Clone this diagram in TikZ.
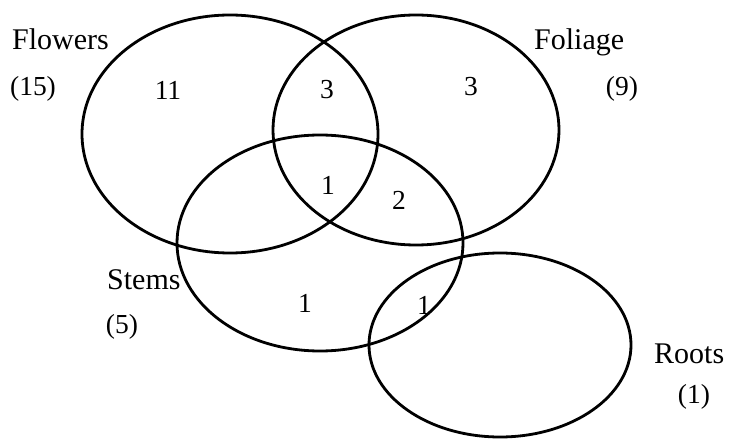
\documentclass[tikz,border=0pt]{standalone}
\usepackage{fontspec}
\setmainfont{Liberation Serif}
\begin{document}
\begin{tikzpicture}[x=1pt,y=-1pt,
  setline/.style={line width=2.8pt,black},
  lbl/.style={inner sep=0pt,font=\fontsize{30}{32}\selectfont,anchor=base west},
  num/.style={inner sep=0pt,font=\fontsize{27.5}{29}\selectfont}]
\useasboundingbox (0,0) rectangle (732,441);
\coordinate (cF) at (230,134);
\coordinate (cL) at (416,130);
\coordinate (cS) at (320,243);
\coordinate (cR) at (500,345);
\draw[setline] (cF) ellipse [x radius=148pt, y radius=119pt];
\draw[setline] (cL) ellipse [x radius=143pt, y radius=115pt];
\draw[setline] (cS) ellipse [x radius=143pt, y radius=108pt];
\draw[setline] (cR) ellipse [x radius=131pt, y radius=92pt];
\node[lbl] (tF) at (12,50) {Flowers};
\node[num] (nF) at (33,89) {(15)};
\node[lbl] (tL) at (534,50) {Foliage};
\node[num] (nL) at (622,89) {(9)};
\node[lbl] (tS) at (107,290) {Stems};
\node[num] (nS) at (122,327) {(5)};
\node[lbl] (tR) at (654,363) {Roots};
\node[num] (nR) at (694,397) {(1)};
\node[num] (a) at (168,90) {11};
\node[num] (b) at (327,90) {3};
\node[num] (c) at (471,87) {3};
\node[num] (d) at (328,185) {1};
\node[num] (e) at (399,200) {2};
\node[num] (f) at (305,303) {1};
\node[num] (g) at (424,305) {1};
\end{tikzpicture}
\end{document}
